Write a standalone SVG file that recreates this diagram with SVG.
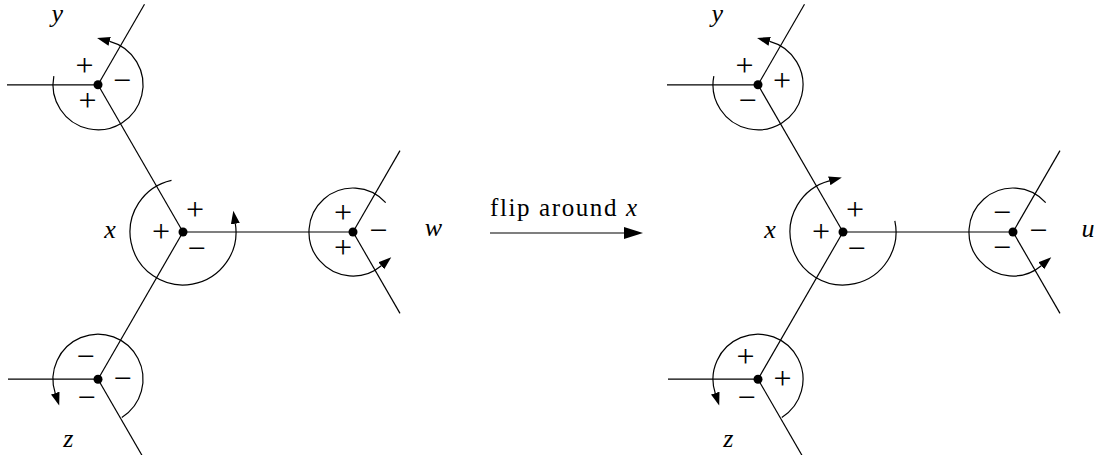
<svg xmlns="http://www.w3.org/2000/svg" width="1101" height="455" viewBox="0 0 1101 455">
  <style>
    .edge { stroke: #000; stroke-width: 1.2; fill: none; }
    .arc { stroke: #000; stroke-width: 1.2; fill: none; marker-end: url(#tip); }
    .dot { fill: #000; }
    .sg { font-family: "Liberation Serif", serif; font-size: 32px; text-anchor: middle; fill: #000; }
    .lb { font-family: "Liberation Serif", serif; font-style: italic; font-size: 26px; text-anchor: middle; fill: #000; }
    .fl { font-family: "Liberation Serif", serif; font-size: 25px; fill: #000; }
  </style>
  <defs>
    <marker id="tip" markerUnits="userSpaceOnUse" markerWidth="14" markerHeight="10" viewBox="0 -5 14 10" refX="0" refY="0" orient="auto">
      <path d="M0,-4.5 L13,0 L0,4.5 Z" fill="#000"/>
    </marker>
    <marker id="bigtip" markerUnits="userSpaceOnUse" markerWidth="20" markerHeight="14" viewBox="0 -7 20 14" refX="0" refY="0" orient="auto">
      <path d="M0,-6 L19,0 L0,6 Z" fill="#000"/>
    </marker>
  </defs>

  <g id="connectors">
    <!-- left figure -->
    <line class="edge" x1="183" y1="232" x2="98" y2="84.8"/>
    <line class="edge" x1="183" y1="232" x2="98" y2="379.2"/>
    <line class="edge" x1="183" y1="232" x2="353" y2="232"/>
    <line class="edge" x1="98" y1="84.8" x2="7" y2="84.8"/>
    <line class="edge" x1="98" y1="84.8" x2="144.5" y2="4.3"/>
    <line class="edge" x1="353" y1="232" x2="400" y2="150.6"/>
    <line class="edge" x1="353" y1="232" x2="400" y2="313.4"/>
    <line class="edge" x1="98" y1="379.2" x2="8" y2="379.2"/>
    <line class="edge" x1="98" y1="379.2" x2="145" y2="460.6"/>
    <!-- right figure -->
    <line class="edge" x1="843" y1="232" x2="758" y2="84.8"/>
    <line class="edge" x1="843" y1="232" x2="758" y2="379.2"/>
    <line class="edge" x1="843" y1="232" x2="1013" y2="232"/>
    <line class="edge" x1="758" y1="84.8" x2="667" y2="84.8"/>
    <line class="edge" x1="758" y1="84.8" x2="804.5" y2="4.3"/>
    <line class="edge" x1="1013" y1="232" x2="1060" y2="150.6"/>
    <line class="edge" x1="1013" y1="232" x2="1060" y2="313.4"/>
    <line class="edge" x1="758" y1="379.2" x2="668" y2="379.2"/>
    <line class="edge" x1="758" y1="379.2" x2="805" y2="460.6"/>
    <!-- flip arrow -->
    <line class="edge" x1="490" y1="233" x2="624" y2="233" marker-end="url(#bigtip)"/>
  </g>

  <g id="flip-label">
    <text class="fl" x="490" y="216" textLength="147" lengthAdjust="spacing">flip around <tspan font-style="italic">x</tspan></text>
  </g>

  <!-- LEFT FIGURE -->
  <g id="L-y">
    <path class="arc" d="M53.83,76.21 A45,45 0 1 0 109.65,41.33"/>
    <circle class="dot" cx="98" cy="84.8" r="4.5"/>
    <text class="sg" x="84.5" y="75.8">+</text>
    <text class="sg" x="122" y="91.1">−</text>
    <text class="sg" x="87.5" y="111.1">+</text>
    <text class="lb" x="57.3" y="22.2">y</text>
  </g>
  <g id="L-x">
    <path class="arc" d="M171.5,180.3 A53,53 0 1 0 235.35,223.7"/>
    <circle class="dot" cx="183" cy="232" r="4.5"/>
    <text class="sg" x="195" y="220.1">+</text>
    <text class="sg" x="161" y="242.1">+</text>
    <text class="sg" x="196.5" y="259.1">−</text>
    <text class="lb" x="110" y="238.4">x</text>
  </g>
  <g id="L-w">
    <path class="arc" d="M385.7,202.6 A44,44 0 1 0 381.3,265.7"/>
    <circle class="dot" cx="353" cy="232" r="4.5"/>
    <text class="sg" x="343" y="222.6">+</text>
    <text class="sg" x="378.3" y="240.6">−</text>
    <text class="sg" x="343" y="257.6">+</text>
    <text class="lb" x="433.3" y="235.7">w</text>
  </g>
  <g id="L-z">
    <path class="arc" d="M121.8,417.4 A45,45 0 1 0 55.2,393.1"/>
    <circle class="dot" cx="98" cy="379.2" r="4.5"/>
    <text class="sg" x="85.5" y="366.6">−</text>
    <text class="sg" x="122.5" y="389.1">−</text>
    <text class="sg" x="86.5" y="408.1">−</text>
    <text class="lb" x="68.3" y="446.5">z</text>
  </g>

  <!-- RIGHT FIGURE -->
  <g id="R-y">
    <path class="arc" d="M713.83,76.21 A45,45 0 1 0 769.65,41.33"/>
    <circle class="dot" cx="758" cy="84.8" r="4.5"/>
    <text class="sg" x="744.5" y="75.8">+</text>
    <text class="sg" x="782" y="91.1">+</text>
    <text class="sg" x="747.5" y="111.1">−</text>
    <text class="lb" x="717.3" y="22.2">y</text>
  </g>
  <g id="R-x">
    <path class="arc" d="M894.84,220.98 A53,53 0 1 1 829.28,180.81"/>
    <circle class="dot" cx="843" cy="232" r="4.5"/>
    <text class="sg" x="855" y="220.1">+</text>
    <text class="sg" x="821" y="242.1">+</text>
    <text class="sg" x="856.5" y="259.1">−</text>
    <text class="lb" x="770" y="238.4">x</text>
  </g>
  <g id="R-u">
    <path class="arc" d="M1045.7,202.6 A44,44 0 1 0 1041.3,265.7"/>
    <circle class="dot" cx="1013" cy="232" r="4.5"/>
    <text class="sg" x="1002" y="222.6">−</text>
    <text class="sg" x="1038.3" y="240.6">−</text>
    <text class="sg" x="1002" y="257.6">−</text>
    <text class="lb" x="1088" y="237.4">u</text>
  </g>
  <g id="R-z">
    <path class="arc" d="M781.8,417.4 A45,45 0 1 0 715.2,393.1"/>
    <circle class="dot" cx="758" cy="379.2" r="4.5"/>
    <text class="sg" x="745.5" y="366.6">+</text>
    <text class="sg" x="782.5" y="389.1">+</text>
    <text class="sg" x="746.5" y="408.1">−</text>
    <text class="lb" x="728.3" y="446.5">z</text>
  </g>
</svg>
